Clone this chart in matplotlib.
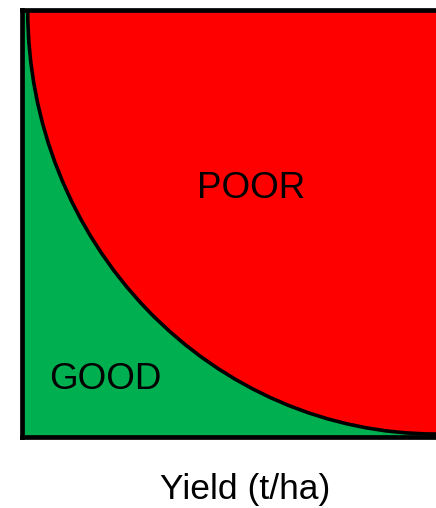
import matplotlib.pyplot as plt
from matplotlib.patches import Ellipse

# quarter-ellipse boundary between the two zones (axes run 0..1)
boundary_center = (1.0, 1.0)
boundary_radius = (0.985, 0.993)

zone_labels = ['POOR', 'GOOD']
zone_x = [0.554, 0.201]
zone_y = [0.560, 0.112]
x_label = 'Yield (t/ha)'

green = '#00B050'
red = '#FF0000'
font = ['Liberation Sans', 'DejaVu Sans']

fig = plt.figure(figsize=(4.36, 5.08), dpi=100)
ax = fig.add_axes([21.5 / 436, (508 - 437) / 508, (436 - 21.5) / 436, 427 / 508])
ax.set_xlim(0, 1)
ax.set_ylim(0, 1)
ax.set_facecolor(green)

ax.add_patch(Ellipse(boundary_center,
                     2 * boundary_radius[0], 2 * boundary_radius[1],
                     facecolor=red, edgecolor='black', linewidth=2.6))

for lab, x, y in zip(zone_labels, zone_x, zone_y):
    ax.text(x, y, lab, ha='center', va='baseline', fontsize=26.5,
            family=font, color='black')

ax.set_xticks([])
ax.set_yticks([])
for side in ['left', 'top', 'bottom']:
    ax.spines[side].set_linewidth(3.4)
    ax.spines[side].set_color('black')
ax.spines['right'].set_visible(False)

fig.text(245 / 436, (508 - 499) / 508, x_label, ha='center', va='baseline',
         fontsize=25.5, family=font)

fig.savefig('out.png', dpi=100)
